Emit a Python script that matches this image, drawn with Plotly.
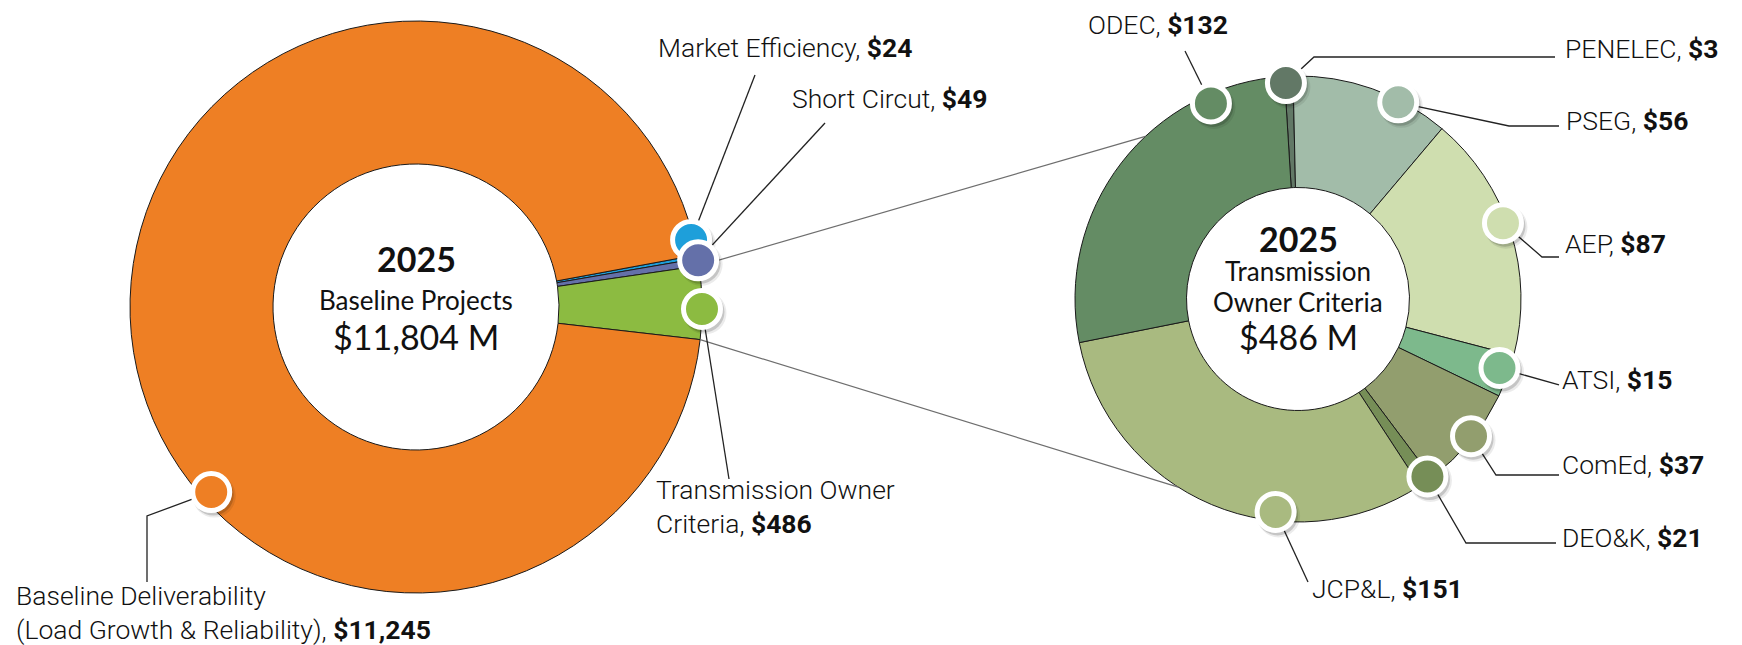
import math
import plotly.graph_objects as go

W, H = 1742, 645

# ---------------- data ----------------
year = "2025"
baseline_title = "Baseline Projects"
baseline_total = 11804
baseline_names = ["Market Efficiency", "Short Circut",
                  "Transmission Owner<br>Criteria",
                  "Baseline Deliverability<br>(Load Growth & Reliability)"]
baseline_values = [24, 49, 486, 11245]

owner_title = "Transmission<br>Owner Criteria"
owner_total = 486
owner_names = ["PENELEC", "PSEG", "AEP", "ATSI", "ComEd", "DEO&K", "JCP&L", "ODEC"]
owner_amounts = [3, 56, 87, 15, 37, 21, 151, 132]          # amounts printed in labels
owner_slice_values = [3, 56, 87, 15, 37, 5, 151, 132]     # slice sizes as drawn (sum = 486)

# ---------------- styles / layout settings ----------------
baseline_colors = ["#1E9FDA", "#6470A9", "#8CBB41", "#EE7F24"]
owner_colors = ["#627866", "#A2BCA9", "#CFDEAF", "#7DB98C", "#929E6E", "#768E57", "#A9BA80", "#648C64"]

L_CX, L_CY, L_R = 408, 299, 286
R_CX, R_CY, R_R = 1290, 291, 223
L_ROT, R_ROT = 79.5, -3.5
HOLE = 0.5

# marker placement: (angle clockwise from 12 o'clock, fraction of outer radius)
baseline_marker_pos = [(76.3, 0.99), (80.6, 1.0), (90.4, 1.0), (227.9, 0.965)]
owner_marker_pos = [(356.8, 0.97), (27, 0.99), (69.7, 0.98), (108.9, 0.955),
                    (128.4, 0.99), (143.9, 0.985), (186, 0.96), (336, 0.96)]

# leader line points after the marker (pixels), and label anchor (left x, middle y)
baseline_leaders = [[(747, 67)], [(817, 115)], [(721, 471)], [(139, 508), (139, 574)]]
baseline_label_pos = [(655, 47), (789, 98), (653, 506), (13, 612)]
owner_leaders = [[(1306, 49), (1547, 49)], [(1501, 118), (1551, 118)], [(1534, 249), (1551, 249)],
                 [(1551, 377)], [(1488, 467), (1551, 467)], [(1458, 535), (1548, 535)],
                 [(1300, 574)], [(1177, 43)]]
owner_label_pos = [(1562, 49), (1563, 120), (1562, 243), (1559, 379), (1559, 464),
                   (1559, 537), (1309, 588), (1085, 25)]

# connector end angles on the right donut
CONN_END_UPPER, CONN_END_LOWER = 316.8, 212.5

# text box offset compensation (annotation padding / font metrics)
TXT_DX, TXT_DY = -7, -8

LABEL_FONT = dict(family="Roboto", size=26.5, color="#111111", weight=300)
CENTER_FONT = "Lato"


def px(x):
    return x / W


def py(y):
    return 1 - y / H


def polar(cx, cy, r, ang):
    a = math.radians(ang)
    return cx + r * math.sin(a), cy - r * math.cos(a)


fig = go.Figure()

fig.add_trace(go.Pie(
    labels=baseline_names, values=baseline_values, sort=False, direction="clockwise",
    rotation=L_ROT, hole=HOLE, textinfo="none", showlegend=False,
    marker=dict(colors=baseline_colors, line=dict(color="#1a1a1a", width=1)),
    domain=dict(x=[px(L_CX - L_R), px(L_CX + L_R)], y=[py(L_CY + L_R), py(L_CY - L_R)]),
))
fig.add_trace(go.Pie(
    labels=owner_names, values=owner_slice_values, sort=False, direction="clockwise",
    rotation=R_ROT, hole=HOLE, textinfo="none", showlegend=False,
    marker=dict(colors=owner_colors, line=dict(color="#1a1a1a", width=1)),
    domain=dict(x=[px(R_CX - R_R), px(R_CX + R_R)], y=[py(R_CY + R_R), py(R_CY - R_R)]),
))

shapes = []
annotations = []


def line_shape(pts, color, width):
    path = "M " + " L ".join(f"{px(x):.6f},{py(y):.6f}" for x, y in pts)
    return dict(type="path", path=path, xref="paper", yref="paper",
                line=dict(color=color, width=width), layer="above")


def circle(cx, cy, r, fill, lcolor=None, lwidth=0):
    return dict(type="circle", xref="paper", yref="paper",
                x0=px(cx - r), x1=px(cx + r), y0=py(cy + r), y1=py(cy - r),
                fillcolor=fill, line=dict(color=lcolor or fill, width=lwidth), layer="above")


# connector lines between the two donuts (from the Transmission Owner Criteria slice)
tot = sum(baseline_values)
toc_start = L_ROT + 360 * sum(baseline_values[:2]) / tot
toc_end = toc_start + 360 * baseline_values[2] / tot
shapes.append(line_shape([polar(L_CX, L_CY, L_R, toc_start), polar(R_CX, R_CY, R_R, CONN_END_UPPER)], "#6e6e6e", 1.2))
shapes.append(line_shape([polar(L_CX, L_CY, L_R, toc_end), polar(R_CX, R_CY, R_R, CONN_END_LOWER)], "#6e6e6e", 1.2))

markers = []
for names, amounts, colors, mpos, leaders, lpos, cx, cy, R in [
    (baseline_names, baseline_values, baseline_colors, baseline_marker_pos, baseline_leaders,
     baseline_label_pos, L_CX, L_CY, L_R),
    (owner_names, owner_amounts, owner_colors, owner_marker_pos, owner_leaders,
     owner_label_pos, R_CX, R_CY, R_R),
]:
    for name, amt, col, (ang, f), lead, (lx, ly) in zip(names, amounts, colors, mpos, leaders, lpos):
        mx, my = polar(cx, cy, R * f, ang)
        shapes.append(line_shape([(mx, my)] + lead, "#222222", 1.3))
        markers.append((mx, my, col))
        annotations.append(dict(
            x=px(lx + TXT_DX), y=py(ly + TXT_DY), xref="paper", yref="paper",
            xanchor="left", yanchor="middle",
            align="left", showarrow=False, text=f"{name}, <b>${amt:,}</b>", font=LABEL_FONT))

for mx, my, col in markers:
    shapes.append(circle(mx + 3, my + 4, 21.5, "rgba(0,0,0,0.08)"))
    shapes.append(circle(mx + 2, my + 3, 20.5, "rgba(0,0,0,0.16)"))
    shapes.append(circle(mx, my, 18.5, col, "white", 5))

# centre texts
for cx, y_year, title, title_ys, total, y_total in [
    (L_CX, 258, baseline_title, [300], baseline_total, 336),
    (R_CX, 239, owner_title, [271, 302], owner_total, 337),
]:
    annotations.append(dict(x=px(cx), y=py(y_year + TXT_DY), xref="paper", yref="paper", showarrow=False,
                            xanchor="center", yanchor="middle",
                            text=f"<b>{year}</b>", font=dict(family=CENTER_FONT, size=34, color="#111")))
    for t, yy in zip(title.split("<br>"), title_ys):
        annotations.append(dict(x=px(cx), y=py(yy + TXT_DY), xref="paper", yref="paper", showarrow=False,
                                xanchor="center", yanchor="middle",
                                text=t, font=dict(family=CENTER_FONT, size=26, color="#111")))
    annotations.append(dict(x=px(cx), y=py(y_total + TXT_DY), xref="paper", yref="paper", showarrow=False,
                            xanchor="center", yanchor="middle",
                            text=f"${total:,} M", font=dict(family=CENTER_FONT, size=34, color="#111")))

fig.update_layout(
    width=W, height=H, margin=dict(l=0, r=0, t=0, b=0),
    paper_bgcolor="white", plot_bgcolor="white",
    shapes=shapes, annotations=annotations, showlegend=False,
)

fig.write_html("out.html")
